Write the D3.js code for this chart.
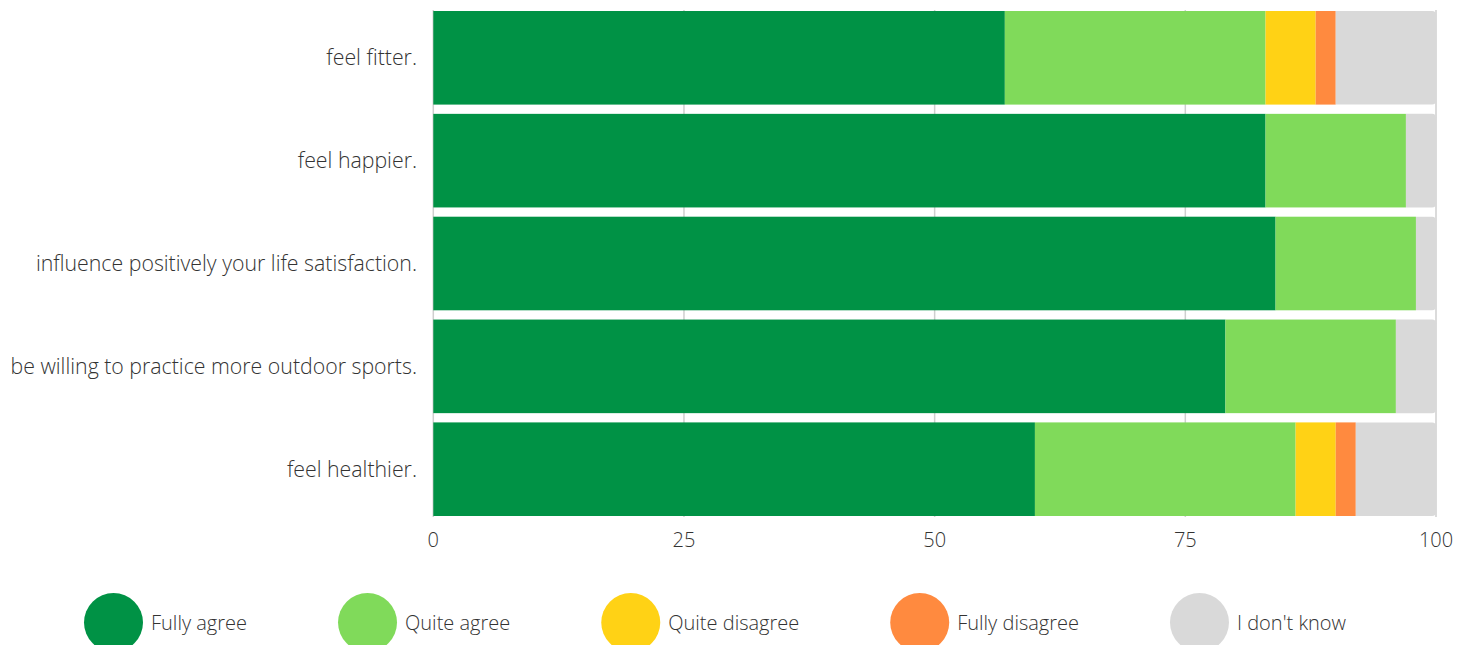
<!DOCTYPE html>
<html>
<head>
<meta charset="utf-8">
<script src="https://cdn.jsdelivr.net/npm/d3@7"></script>
<style>
  html, body { margin: 0; padding: 0; background: #fff; }
  svg { display: block; font-family: "Open Sans", sans-serif; font-weight: 300; }
</style>
</head>
<body>
<svg id="chart" width="1469" height="645"></svg>
<script>
const categories = [
  "feel fitter.",
  "feel happier.",
  "influence positively your life satisfaction.",
  "be willing to practice more outdoor sports.",
  "feel healthier."
];
const seriesNames = ["Fully agree", "Quite agree", "Quite disagree", "Fully disagree", "I don't know"];
const fullyAgree    = [57, 83, 84, 79, 60];
const quiteAgree    = [26, 14, 14, 17, 26];
const quiteDisagree = [5, 0, 0, 0, 4];
const fullyDisagree = [2, 0, 0, 0, 2];
const dontKnow      = [10, 3, 2, 4, 8];
const xTicks = [0, 25, 50, 75, 100];
const colors = ["#009245", "#80DA5A", "#FFD215", "#FF8A3F", "#D9D9D9"];

const seriesValues = [fullyAgree, quiteAgree, quiteDisagree, fullyDisagree, dontKnow];
const rows = categories.map((c, i) => {
  const r = { category: c };
  seriesNames.forEach((s, k) => r[s] = seriesValues[k][i]);
  return r;
});
const stacked = d3.stack().keys(seriesNames)(rows);

const svg = d3.select("#chart");
const x = d3.scaleLinear().domain([0, 100]).range([433.3, 1436]);
const y = d3.scaleBand().domain(categories).range([11, 516]).paddingInner(0.09).paddingOuter(0);

// grid lines
svg.append("g").selectAll("line").data(xTicks).join("line")
  .attr("x1", d => x(d)).attr("x2", d => x(d))
  .attr("y1", 10).attr("y2", 517)
  .attr("stroke", "#cfcfcf").attr("stroke-width", 1.5);

function roundedRight(x0, y0, w, h, r) {
  r = Math.min(r, w);
  return `M${x0},${y0}H${x0 + w - r}Q${x0 + w},${y0} ${x0 + w},${y0 + r}V${y0 + h - r}Q${x0 + w},${y0 + h} ${x0 + w - r},${y0 + h}H${x0}Z`;
}

const layers = svg.append("g").selectAll("g").data(stacked).join("g")
  .attr("fill", (d, i) => colors[i]);

layers.each(function(layer, li) {
  const g = d3.select(this);
  const data = layer.filter(d => d[1] - d[0] > 0);
  if (li === seriesNames.length - 1) {
    g.selectAll("path").data(data).join("path")
      .attr("d", d => roundedRight(x(d[0]), y(d.data.category), x(d[1]) - x(d[0]), y.bandwidth(), 4));
  } else {
    g.selectAll("rect").data(data).join("rect")
      .attr("x", d => x(d[0]))
      .attr("y", d => y(d.data.category))
      .attr("width", d => x(d[1]) - x(d[0]))
      .attr("height", y.bandwidth());
  }
});

// category labels
svg.append("g").selectAll("text").data(categories).join("text")
  .attr("x", 417)
  .attr("y", d => y(d) + y.bandwidth() / 2)
  .attr("dy", "0.35em")
  .attr("text-anchor", "end")
  .attr("fill", "#333")
  .style("font-size", "21.3px")
  .text(d => d);

// x tick labels
svg.append("g").selectAll("text").data(xTicks).join("text")
  .attr("x", d => x(d))
  .attr("y", 540)
  .attr("dy", "0.35em")
  .attr("text-anchor", "middle")
  .attr("fill", "#333")
  .style("font-size", "20px")
  .text(d => d);

// legend
const legend = svg.append("g");
let cx = 84;
seriesNames.forEach((name, i) => {
  const r = 29.5;
  legend.append("circle")
    .attr("cx", cx + r).attr("cy", 622.5).attr("r", r)
    .attr("fill", colors[i]);
  const t = legend.append("text")
    .attr("x", cx + 67).attr("y", 623)
    .attr("dy", "0.35em")
    .attr("fill", "#333")
    .style("font-size", "20px")
    .text(name);
  const w = t.node().getComputedTextLength();
  cx = cx + 67 + w + 91;
});
</script>
</body>
</html>
